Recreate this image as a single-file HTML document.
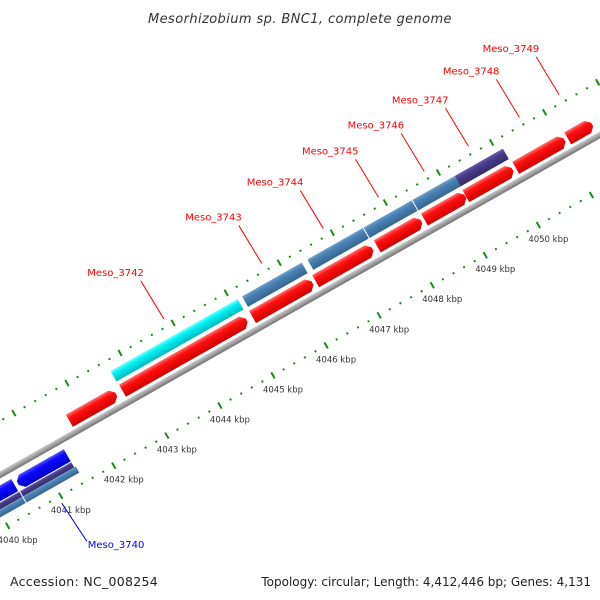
<!DOCTYPE html>
<html><head><meta charset="utf-8"><style>
body{margin:0;background:#fff}
svg{display:block;font-family:"DejaVu Sans","Liberation Sans",sans-serif}
</style></head><body>
<svg id="map" width="600" height="600" viewBox="0 0 600 600">
<defs>
<linearGradient id="gBack" x1="0" y1="0" x2="0" y2="1"><stop offset="0" stop-color="#c8c8c8"/><stop offset="0.5" stop-color="#a0a0a0"/><stop offset="1" stop-color="#707070"/></linearGradient>
<linearGradient id="gRed" x1="0" y1="0" x2="0" y2="1"><stop offset="0" stop-color="#ff7070"/><stop offset="0.3" stop-color="#ff1010"/><stop offset="1" stop-color="#d00000"/></linearGradient>
<linearGradient id="gBlue" x1="0" y1="0" x2="0" y2="1"><stop offset="0" stop-color="#5050ff"/><stop offset="0.3" stop-color="#0a0aff"/><stop offset="1" stop-color="#0000c8"/></linearGradient>
<linearGradient id="gCyan" x1="0" y1="0" x2="0" y2="1"><stop offset="0" stop-color="#80ffff"/><stop offset="0.3" stop-color="#00f5f5"/><stop offset="1" stop-color="#00b8c0"/></linearGradient>
<linearGradient id="gSteel" x1="0" y1="0" x2="0" y2="1"><stop offset="0" stop-color="#6fa0cc"/><stop offset="0.3" stop-color="#4a82b4"/><stop offset="1" stop-color="#36668f"/></linearGradient>
<linearGradient id="gPurp" x1="0" y1="0" x2="0" y2="1"><stop offset="0" stop-color="#6a5ab0"/><stop offset="0.3" stop-color="#483d8b"/><stop offset="1" stop-color="#342c68"/></linearGradient>
</defs>
<text x="300" y="23" text-anchor="middle" font-size="13" font-style="italic" fill="#333" letter-spacing="0.4">Mesorhizobium sp. BNC1, complete genome</text>
<g id="rot" transform="translate(0,475) rotate(-29.54)"></g>
<g id="labels"></g>
<text x="10" y="586" font-size="12.5" fill="#222" letter-spacing="0.3">Accession: NC_008254</text>
<text x="591" y="586" text-anchor="end" font-size="12" fill="#222">Topology: circular; Length: 4,412,446 bp; Genes: 4,131</text>
</svg>
<script>
// data (kbp)
var fwdStart = [4041.73, 4042.73, 4045.18, 4046.37, 4047.53, 4048.42, 4049.20, 4050.14, 4051.12];
var fwdEnd   = [4042.61, 4045.07, 4046.31, 4047.44, 4048.36, 4049.19, 4050.08, 4051.06, 4051.58];
var fwdNames = ["", "Meso_3742", "Meso_3743", "Meso_3744", "Meso_3745", "Meso_3746", "Meso_3747", "Meso_3748", "Meso_3749"];
var catStart = [4042.71, 4045.19, 4046.42, 4047.48, 4048.40, 4049.20];
var catEnd   = [4045.12, 4046.33, 4047.48, 4048.40, 4049.27, 4050.12];
var catKind  = ["cyan", "steel", "steel", "steel", "steel", "purp"];
var revStart = [4038.60, 4040.49];
var revEnd   = [4040.43, 4041.42];
var revNames = ["", "Meso_3740"];
var revCat1Start = [4038.60, 4040.45], revCat1End = [4040.45, 4041.43];
var revCat2Start = [4038.60, 4040.45], revCat2End = [4040.45, 4041.46];
var tickLabels = [4040, 4041, 4042, 4043, 4044, 4045, 4046, 4047, 4048, 4049, 4050];
var tickMin = 4039.0, tickMax = 4052.4, tickStep = 0.2;

var NS = "http://www.w3.org/2000/svg";
var C = Math.cos(29.54*Math.PI/180), S = Math.sin(29.54*Math.PI/180);
function U(k){ return 42.6 + (k-4041)*61.0; }
function screen(u, v){ return [u*C - v*S, 475 - u*S - v*C]; }
var rot = document.getElementById('rot'), lab = document.getElementById('labels');
function mk(tag, attrs, parent){ var e=document.createElementNS(NS,tag); for(var a in attrs) e.setAttribute(a, attrs[a]); parent.appendChild(e); return e; }

var bb = mk('rect', {x:-200, y:-3, width:1100, height:6, fill:'url(#gBack)'}, rot);



var n = Math.round((tickMax-tickMin)/tickStep);
for (var i=0;i<=n;i++){
  var k = tickMin + i*tickStep, u = U(k);
  var major = Math.abs(k-Math.round(k))<1e-6;
  [47, -48].forEach(function(v){
    var h = major?3.5:1;
    var t = mk('line', {x1:u, x2:u, y1:-(v-h), y2:-(v+h), stroke:'#1a8c1a', 'stroke-width':2}, rot);
    
    
  });
}
tickLabels.forEach(function(k){
  var p = screen(U(k), -48);
  var t = mk('text', {x:p[0]+10, y:p[1]+17, 'text-anchor':'middle', 'font-size':8.5, fill:'#333'}, lab);
  t.textContent = k + ' kbp';
  
  
});

function bar(k0,k1,v0,v1,fill,name){
  var u0=U(k0), u1=U(k1);
  var r = mk('rect', {x:u0+0.5, y:-v1, width:Math.max(0,u1-u0-1), height:v1-v0, fill:fill}, rot);
  
  
}
function arrow(k0,k1,v0,v1,fill,dir,name){
  var u0=U(k0), u1=U(k1), y0=-v1, y1=-v0, m=(y0+y1)/2, h=5;
  var pts = dir>0 ?
    [[u0,y0],[u1-h,y0],[u1,m-2],[u1,m+2],[u1-h,y1],[u0,y1]] :
    [[u1,y0],[u0+h,y0],[u0,m-2],[u0,m+2],[u0+h,y1],[u1,y1]];
  var p = mk('polygon', {points:pts.map(function(q){return q.join(',');}).join(' '), fill:fill}, rot);
  
  
}
var fills = {cyan:'url(#gCyan)', steel:'url(#gSteel)', purp:'url(#gPurp)'};
for (var i=0;i<fwdStart.length;i++) arrow(fwdStart[i], fwdEnd[i], 6, 20, 'url(#gRed)', 1, 'forward-gene');
for (var i=0;i<catStart.length;i++) bar(catStart[i], catEnd[i], 24, 36, fills[catKind[i]], 'forward-category-bar');
for (var i=0;i<revStart.length;i++) arrow(revStart[i], revEnd[i], -23, -9, 'url(#gBlue)', -1, 'reverse-gene');
for (var i=0;i<revCat1Start.length;i++) bar(revCat1Start[i], revCat1End[i], -30, -24, 'url(#gPurp)', 'reverse-category-bar');
for (var i=0;i<revCat2Start.length;i++) bar(revCat2Start[i], revCat2End[i], -37, -30, 'url(#gSteel)', 'reverse-category-bar');

function label(name, k0, k1, outer, color){
  var um=(U(k0)+U(k1))/2;
  var p = screen(um, outer?55:-55);
  var q = outer ? [p[0]-23, p[1]-38] : [p[0]+25, p[1]+38];
  var l = mk('line', {x1:p[0], y1:p[1], x2:q[0], y2:q[1], stroke:color, 'stroke-width':1}, lab);
  
  
  var t = outer ? mk('text', {x:q[0]+3, y:q[1]-5, 'text-anchor':'end', 'font-size':10, fill:color}, lab)
                : mk('text', {x:q[0]+1, y:q[1]+7, 'text-anchor':'start', 'font-size':10, fill:color}, lab);
  t.textContent = name;
  
  
}
for (var i=0;i<fwdNames.length;i++) if (fwdNames[i]) label(fwdNames[i], fwdStart[i], fwdEnd[i], true, '#f00');
for (var i=0;i<revNames.length;i++) if (revNames[i]) label(revNames[i], revStart[i], revEnd[i], false, '#00f');
</script>
</body></html>
